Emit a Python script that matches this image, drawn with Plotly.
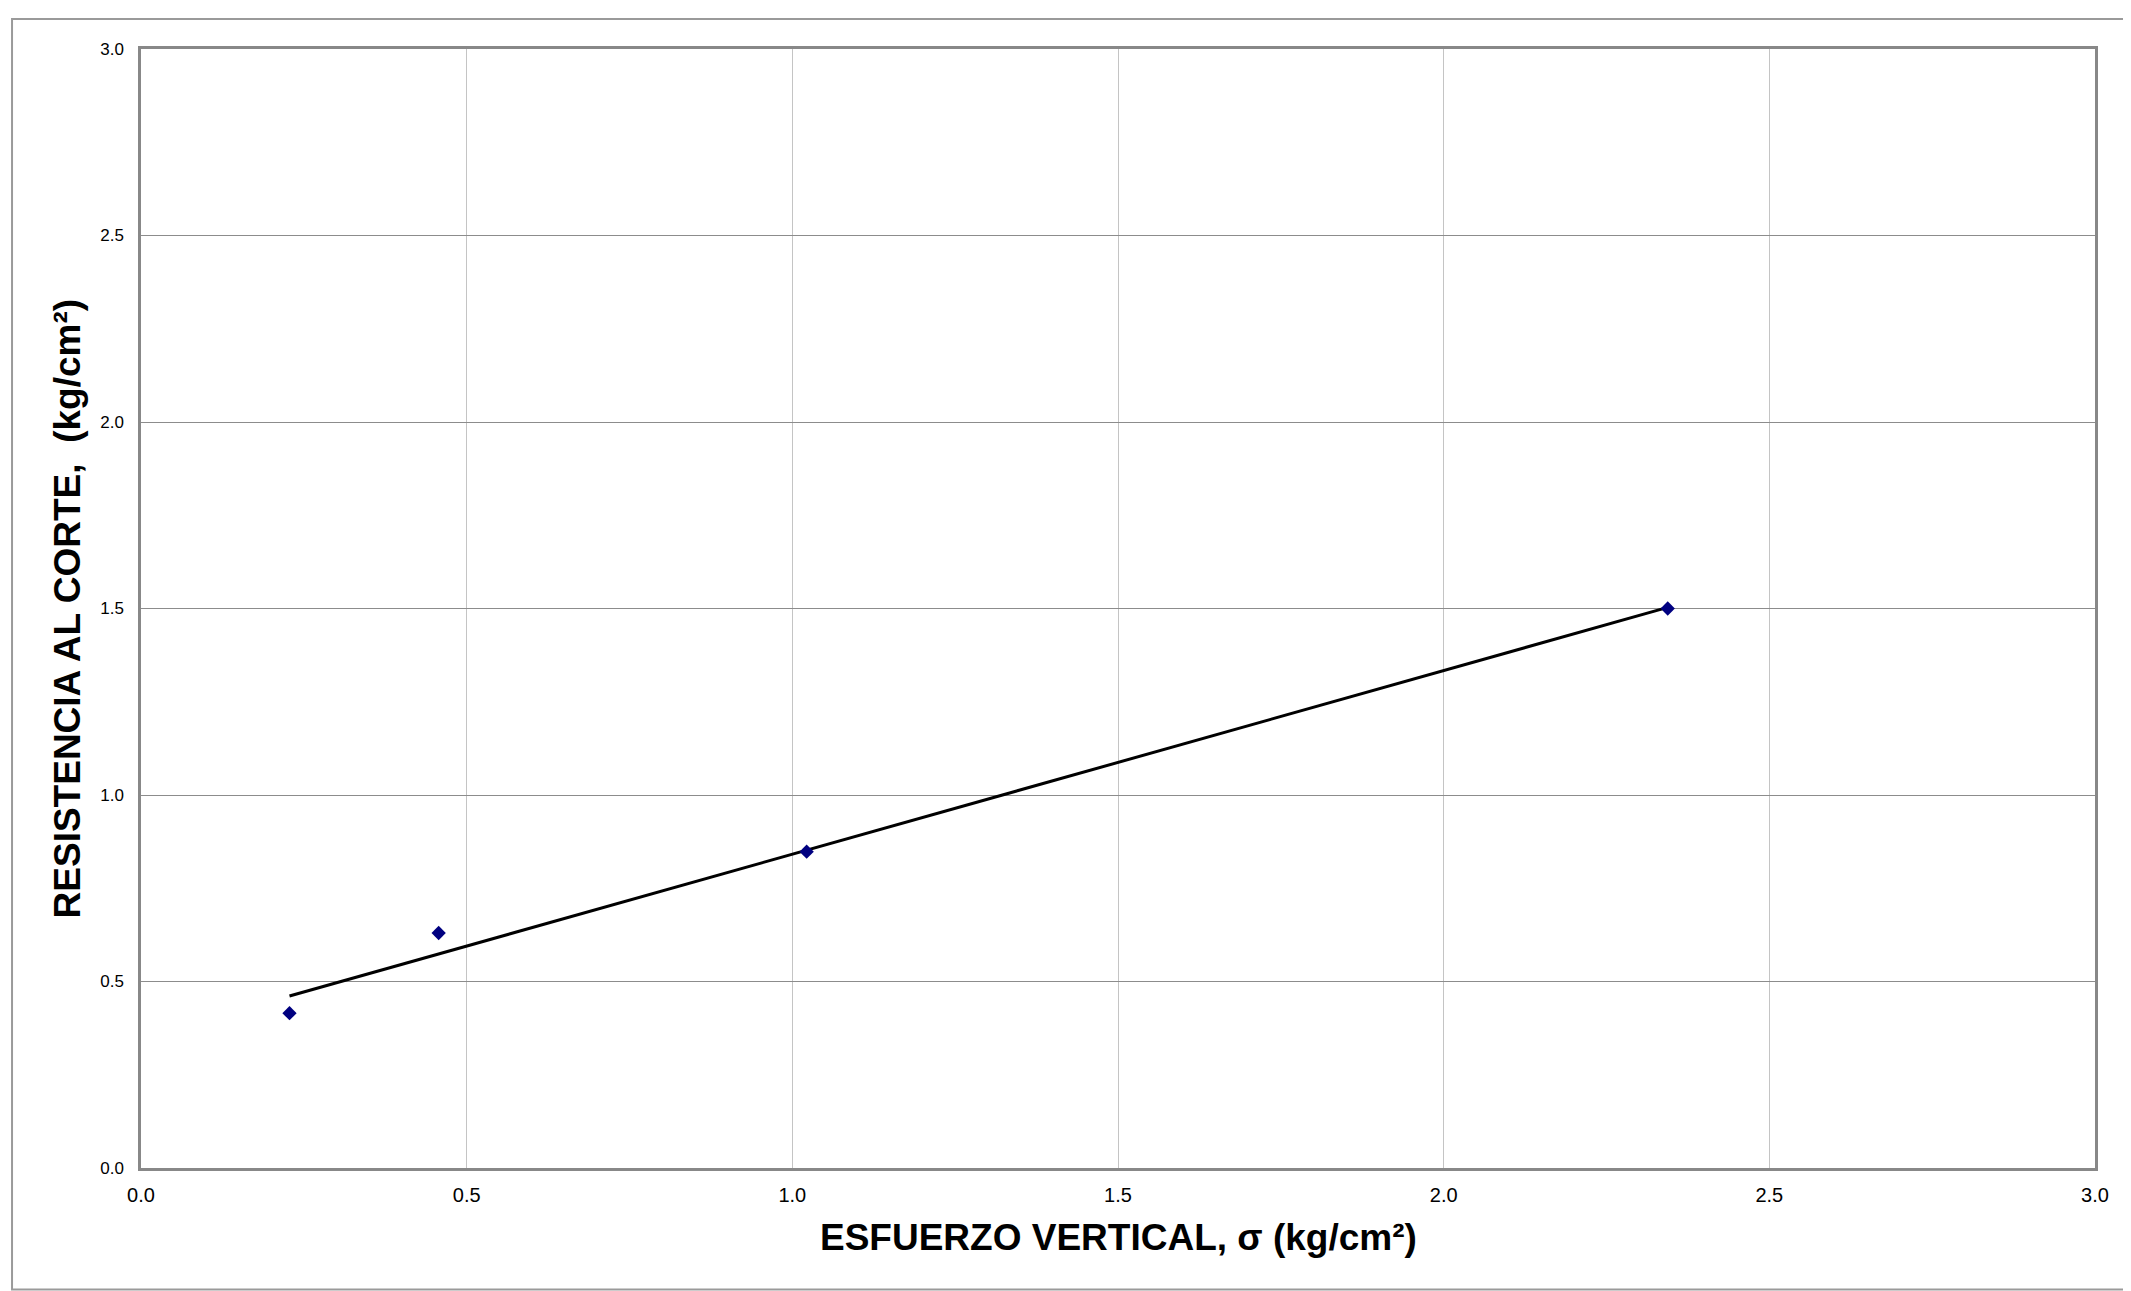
import plotly.graph_objects as go

# Data
sigma = [0.228, 0.457, 1.022, 2.344]          # ESFUERZO VERTICAL (kg/cm2)
tau = [0.415, 0.630, 0.848, 1.500]            # RESISTENCIA AL CORTE (kg/cm2)
trend_x = [0.228, 2.344]                       # fitted line ends
trend_y = [0.461, 1.503]
tick_vals = [0.0, 0.5, 1.0, 1.5, 2.0, 2.5, 3.0]
tick_text = ["0.0", "0.5", "1.0", "1.5", "2.0", "2.5", "3.0"]

FONT = "Arial, Liberation Sans, sans-serif"

fig = go.Figure()
fig.add_trace(go.Scatter(
    x=trend_x, y=trend_y, mode="lines",
    line=dict(color="black", width=3), showlegend=False, hoverinfo="skip"))
fig.add_trace(go.Scatter(
    x=sigma, y=tau, mode="markers",
    marker=dict(symbol="diamond", size=11, color="#000080"),
    showlegend=False))

# page body has an 8px margin, so the figure is offset by (8, 8)
fig.update_layout(
    width=2123, height=1283,
    margin=dict(l=133, r=36, t=41, b=123),
    paper_bgcolor="white", plot_bgcolor="white",
    font=dict(family=FONT, color="black"),
    xaxis=dict(
        range=[0, 3], tickvals=tick_vals, ticktext=tick_text,
        showgrid=True, gridcolor="#c4c4c4", gridwidth=1,
        zeroline=False, showline=True, mirror=True,
        linecolor="#888888", linewidth=2.5, ticks="",
        tickfont=dict(size=20, family=FONT, color="black"),
        ticklabelstandoff=7),
    yaxis=dict(
        range=[0, 3], tickvals=tick_vals, ticktext=tick_text,
        showgrid=True, gridcolor="#8c8c8c", gridwidth=1,
        zeroline=False, showline=True, mirror=True,
        linecolor="#888888", linewidth=2.5, ticks="",
        tickfont=dict(size=17, family=FONT, color="black"),
        ticklabelstandoff=11),
    shapes=[dict(type="rect", xref="paper", yref="paper",
                 x0=-0.066, x1=1.03, y0=-0.1085, y1=1.0268,
                 line=dict(color="#9a9a9a", width=2), layer="below")],
    annotations=[
        dict(text="ESFUERZO VERTICAL, σ (kg/cm²)", xref="paper", yref="paper",
             x=0.5, y=-0.0625, xanchor="center", yanchor="middle",
             showarrow=False, font=dict(size=37, family=FONT, color="black", weight="bold")),
        dict(text="RESISTENCIA AL CORTE,  (kg/cm²)", xref="paper", yref="paper",
             x=-0.0374, y=0.5, xanchor="center", yanchor="middle", textangle=-90,
             showarrow=False, font=dict(size=37, family=FONT, color="black", weight="bold")),
    ],
)

fig.write_html("out.html")
